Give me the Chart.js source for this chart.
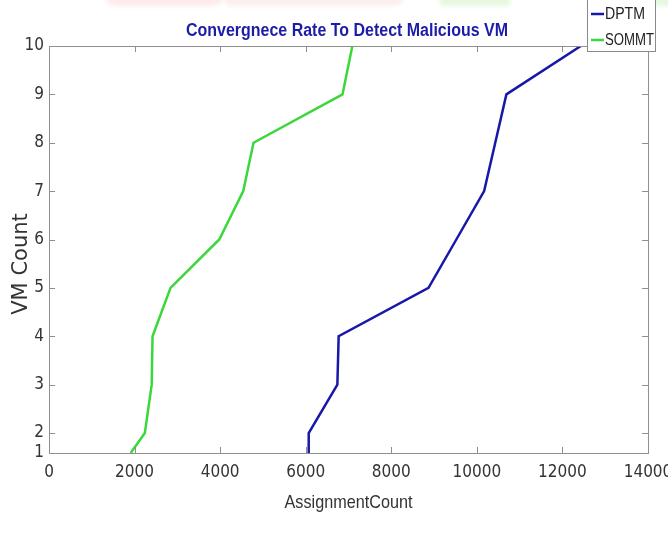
<!DOCTYPE html>
<html>
<head>
<meta charset="utf-8">
<script src="https://cdn.jsdelivr.net/npm/chart.js@4/dist/chart.umd.min.js"></script>
<style>
  html, body { margin: 0; padding: 0; background: #ffffff; }
  #wrap { position: relative; width: 668px; height: 545px; overflow: hidden; }
  .tint { position: absolute; top: -6px; height: 12px; filter: blur(2px); z-index: 0; }
  canvas { position: relative; z-index: 1; }
</style>
</head>
<body>
<div id="wrap">
  <div class="tint" style="left:104px;width:120px;background:rgba(242,170,170,0.24);border-radius:0 0 40px 40px;"></div>
  <div class="tint" style="left:225px;width:180px;background:rgba(242,170,170,0.20);border-radius:0 0 60px 30px;"></div>
  <div class="tint" style="left:440px;width:70px;background:rgba(170,225,140,0.28);"></div>
  <div class="tint" style="left:648px;width:24px;background:rgba(170,225,140,0.28);"></div>
  <canvas id="chart" width="668" height="545"></canvas>
</div>
<script>
// VM counts (y) and assignment counts needed per method (x)
const vmCounts = [1, 2, 3, 4, 5, 6, 7, 8, 9, 10];
const dptmAssignments = [6070, 6070, 6740, 6770, 8870, 9520, 10170, 10430, 10690, 12430];
const sommtAssignments = [1910, 2240, 2400, 2420, 2840, 3980, 4540, 4780, 6860, 7090];
const seriesNames = ['DPTM', 'SOMMT'];
const xTickValues = [0, 2000, 4000, 6000, 8000, 10000, 12000, 14000];

const NARROW = "'DejaVu Sans Condensed', 'Liberation Sans', Arial, sans-serif";
const SANS = "'Liberation Sans', Arial, sans-serif";

// Linear scale whose first unit (1..2) is drawn compressed at the bottom of the axis
class SquashedScale extends Chart.LinearScale {
  _toDecimal(v) {
    const lowShare = 20 / 407;
    if (v <= 2) return (v - 1) * lowShare;
    return lowShare + (v - 2) / 8 * (1 - lowShare);
  }
  _fromDecimal(d) {
    const lowShare = 20 / 407;
    if (d <= lowShare) return 1 + d / lowShare;
    return 2 + (d - lowShare) / (1 - lowShare) * 8;
  }
  getPixelForValue(value) {
    if (value === null || value === undefined || isNaN(value)) return NaN;
    return this.getPixelForDecimal(this._toDecimal(value));
  }
  getValueForPixel(pixel) {
    return this._fromDecimal(this.getDecimalForPixel(pixel));
  }
}
SquashedScale.id = 'squashed';
SquashedScale.defaults = Chart.LinearScale.defaults;
Chart.register(SquashedScale);

const toPoints = (xs) => xs.map((x, i) => ({ x: x, y: vmCounts[i] }));

// draw text squeezed horizontally to a given width (anchor depends on textAlign)
function fitText(ctx, text, x, y, width) {
  const w = ctx.measureText(text).width;
  const k = Math.min(1, width / w);
  ctx.save();
  ctx.translate(x, y);
  ctx.scale(k, 1);
  ctx.fillText(text, 0, 0);
  ctx.restore();
}

// Axes box with inward ticks, the title, the axis captions and the legend box
const framePlugin = {
  id: 'frame',
  afterDatasetsDraw(chart) {
    const { ctx, chartArea: a, scales } = chart;
    ctx.save();
    ctx.strokeStyle = '#8f8f8f';
    ctx.lineWidth = 1;
    ctx.strokeRect(Math.round(a.left) + 0.5, Math.round(a.top) + 0.5,
                   Math.round(a.right - a.left), Math.round(a.bottom - a.top));
    ctx.beginPath();
    scales.x.ticks.forEach((t, i) => {
      const px = Math.round(scales.x.getPixelForTick(i)) + 0.5;
      ctx.moveTo(px, a.bottom); ctx.lineTo(px, a.bottom - 6);
      ctx.moveTo(px, a.top); ctx.lineTo(px, a.top + 6);
    });
    scales.y.ticks.forEach((t, i) => {
      const py = Math.round(scales.y.getPixelForTick(i)) + 0.5;
      ctx.moveTo(a.left, py); ctx.lineTo(a.left + 6, py);
      ctx.moveTo(a.right, py); ctx.lineTo(a.right - 6, py);
    });
    ctx.stroke();
    ctx.restore();
  },
  afterDraw(chart) {
    const { ctx, chartArea: a } = chart;
    ctx.save();
    ctx.textBaseline = 'middle';

    // title
    ctx.fillStyle = '#1c1ca8';
    ctx.font = 'bold 18px ' + SANS;
    ctx.textAlign = 'center';
    fitText(ctx, 'Convergnece Rate To Detect Malicious VM', 347, 31, 322);

    // x-axis caption
    ctx.fillStyle = '#333333';
    ctx.font = '19px ' + SANS;
    fitText(ctx, 'AssignmentCount', (a.left + a.right) / 2, 503, 128);

    // y-axis caption
    ctx.save();
    ctx.translate(22, 264);
    ctx.rotate(-Math.PI / 2);
    ctx.font = '21px ' + "'DejaVu Sans', sans-serif";
    ctx.fillText('VM Count', 0, 0);
    ctx.restore();

    // legend
    ctx.fillStyle = '#ffffff';
    ctx.fillRect(587, -4, 68, 56);
    ctx.strokeStyle = '#8a8a8a';
    ctx.lineWidth = 1;
    ctx.strokeRect(587.5, -4.5, 68, 56);
    const rows = [14, 40];
    const widths = [40, 49];
    chart.data.datasets.forEach((ds, i) => {
      ctx.strokeStyle = ds.borderColor;
      ctx.lineWidth = 2.5;
      ctx.beginPath();
      ctx.moveTo(591, rows[i]);
      ctx.lineTo(604, rows[i]);
      ctx.stroke();
      ctx.fillStyle = '#222222';
      ctx.font = '16px ' + SANS;
      ctx.textAlign = 'left';
      fitText(ctx, ds.label, 605, rows[i] + 1, widths[i]);
    });
    ctx.restore();
  }
};

new Chart(document.getElementById('chart'), {
  type: 'line',
  data: {
    datasets: [
      {
        label: seriesNames[0],
        data: toPoints(dptmAssignments),
        borderColor: '#1818a8',
        borderWidth: 2.5,
        pointRadius: 0,
        tension: 0,
        fill: false
      },
      {
        label: seriesNames[1],
        data: toPoints(sommtAssignments),
        borderColor: '#3ad83a',
        borderWidth: 2.5,
        pointRadius: 0,
        tension: 0,
        fill: false
      }
    ]
  },
  options: {
    responsive: false,
    animation: false,
    layout: { padding: { top: 46, right: 20, left: 0, bottom: 0 } },
    plugins: {
      legend: { display: false },
      title: { display: false },
      tooltip: { enabled: false }
    },
    scales: {
      x: {
        type: 'linear',
        min: 0,
        max: 14000,
        afterBuildTicks: (s) => { s.ticks = xTickValues.map(v => ({ value: v })); },
        afterFit: (s) => { s.height = 92; s.paddingLeft = 0; s.paddingRight = 0; },
        grid: { display: false, drawTicks: false },
        border: { display: false },
        ticks: {
          padding: 9,
          color: '#333333',
          font: { family: NARROW, size: 17 },
          maxRotation: 0,
          callback: (v) => String(v)
        },
        title: { display: false }
      },
      y: {
        type: 'squashed',
        min: 1,
        max: 10,
        afterBuildTicks: (s) => { s.ticks = vmCounts.map(v => ({ value: v })); },
        afterFit: (s) => { s.width = 49; s.paddingTop = 0; s.paddingBottom = 0; },
        grid: { display: false, drawTicks: false },
        border: { display: false },
        ticks: {
          padding: 5,
          color: '#333333',
          font: { family: NARROW, size: 17 },
          callback: (v) => String(v)
        },
        title: { display: false }
      }
    }
  },
  plugins: [framePlugin]
});
</script>
</body>
</html>
